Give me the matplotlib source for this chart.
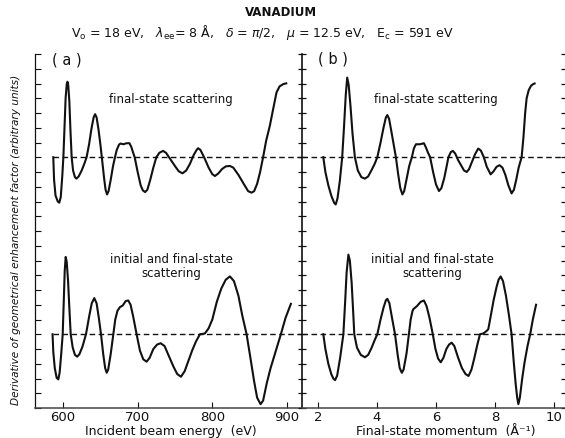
import matplotlib
matplotlib.use("Agg")
import matplotlib.pyplot as plt

# ---------------- data ----------------
# (a) final-state scattering: incident energy (eV) vs derivative (tick units, 0 = dashed line)
E_top = [587, 588, 590, 593, 595, 597, 599, 600.5, 602, 603.5, 605, 606, 607, 608.5, 610, 611.6,
         613.5, 616, 618, 621, 625, 628.5, 631.6, 635, 638, 641, 643, 645, 647.5, 650, 652,
         655, 657, 659, 661, 664, 667, 669.6, 672, 675, 677, 681, 685, 689, 691.5, 694, 696,
         700, 704, 707, 710, 713, 717, 721, 725, 729, 734, 738, 744, 750, 755, 760, 765, 770,
         775, 779, 781, 784, 789, 795, 800, 803.5, 808, 813, 818, 823.5, 828, 835, 842, 848,
         852.6, 856, 860, 864, 868, 872, 877, 882, 886, 890, 895, 899]
D_top_a = [0.0, -1.5, -2.6, -3.0, -3.08, -2.7, -1.3, 0.0, 2.0, 4.0, 4.95, 5.12, 4.9, 3.8, 1.8, 0.0,
           -0.9, -1.35, -1.45, -1.3, -0.9, -0.45, 0.0, 0.9, 1.9, 2.7, 2.92, 2.7, 1.9, 0.9, 0.0,
           -1.4, -2.2, -2.52, -2.3, -1.5, -0.6, 0.0, 0.5, 0.85, 0.93, 0.88, 0.95, 0.95, 0.7, 0.3, 0.0,
           -1.0, -1.9, -2.25, -2.36, -2.2, -1.5, -0.7, 0.0, 0.3, 0.43, 0.3, -0.15, -0.6, -0.95, -1.09,
           -0.9, -0.45, 0.15, 0.5, 0.61, 0.5, 0.0, -0.7, -1.15, -1.27, -1.1, -0.8, -0.62, -0.59,
           -0.7, -1.2, -1.8, -2.3, -2.4, -2.3, -1.8, -1.0, 0.0, 1.1, 2.13, 3.4, 4.4, 4.8, 4.96, 5.01]

# (a) initial and final-state scattering
E_bot = [586, 587, 589, 591.5, 593.7, 595.5, 597.5, 599.6, 601, 602.3, 603.6, 605, 606.8, 608.5,
         610.3, 613, 616, 619, 622, 626, 630.8, 635, 638.5, 641.9, 645, 648, 650.9, 654, 656.5,
         658.5, 660.5, 664, 667.4, 670, 673, 676.3, 680, 684, 687.4, 690.5, 694, 698.6, 703,
         707.5, 712, 716, 721, 726, 730.8, 736, 742, 748, 753, 758, 763, 768, 773, 778, 783.4,
         790, 795, 800, 806, 812, 818, 823.6, 829, 835, 840, 845.9, 851, 856, 860, 864.6, 868,
         873, 878, 884, 891.8, 898, 905.2]
D_bot_a = [0.0, -1.2, -2.3, -2.95, -3.06, -2.6, -1.4, 0.0, 2.2, 4.3, 5.24, 4.9, 3.6, 1.8,
           0.0, -0.9, -1.4, -1.52, -1.35, -0.85, 0.0, 1.2, 2.1, 2.45, 2.1, 1.1, 0.0, -1.4, -2.3,
           -2.61, -2.4, -1.3, 0.0, 1.0, 1.6, 1.84, 1.95, 2.25, 2.29, 2.0, 1.2, 0.0, -1.1,
           -1.7, -1.86, -1.6, -1.0, -0.7, -0.61, -0.8, -1.5, -2.2, -2.7, -2.88, -2.5, -1.8, -1.1,
           -0.5, 0.0, 0.05, 0.4, 1.0, 2.2, 3.1, 3.7, 3.92, 3.6, 2.6, 1.3, 0.0, -1.6, -3.2, -4.3,
           -4.74, -4.5, -3.3, -2.3, -1.3, 0.0, 1.1, 2.06]

# (b) final-state scattering: final-state momentum (1/Angstrom)
k_top = [2.18, 2.25, 2.35, 2.45, 2.55, 2.60, 2.66, 2.74, 2.82, 2.88, 2.94, 2.99, 3.04, 3.10, 3.17,
         3.25, 3.35, 3.47, 3.59, 3.70, 3.82, 3.92, 4.01, 4.12, 4.22, 4.30, 4.35, 4.41, 4.50, 4.57,
         4.64, 4.72, 4.79, 4.86, 4.92, 5.00, 5.09, 5.18, 5.25, 5.32, 5.45, 5.59, 5.66, 5.73, 5.80,
         5.90, 6.00, 6.10, 6.18, 6.28, 6.35, 6.42, 6.50, 6.57, 6.65, 6.75, 6.85, 6.95, 7.04, 7.12,
         7.22, 7.32, 7.43, 7.52, 7.62, 7.72, 7.85, 7.95, 8.05, 8.15, 8.25, 8.35, 8.45, 8.56, 8.64,
         8.72, 8.80, 8.90, 8.96, 9.02, 9.07, 9.14, 9.22, 9.30, 9.34]
D_top_b = [0.0, -1.0, -1.9, -2.6, -3.1, -3.2, -2.8, -1.6, 0.0, 2.0, 4.2, 5.4, 4.9, 3.5, 1.6,
           0.0, -0.9, -1.35, -1.45, -1.3, -0.85, -0.45, 0.0, 1.0, 2.0, 2.7, 2.86, 2.6, 1.6, 0.8,
           0.0, -1.2, -2.1, -2.52, -2.3, -1.5, -0.6, 0.0, 0.6, 0.88, 0.88, 0.95, 0.65, 0.3, 0.0,
           -1.0, -1.85, -2.29, -2.1, -1.4, -0.7, 0.0, 0.35, 0.43, 0.25, -0.2, -0.55, -0.9, -1.0, -0.8,
           -0.3, 0.2, 0.59, 0.45, 0.0, -0.65, -1.16, -0.95, -0.65, -0.54, -0.7, -1.2, -1.9, -2.45, -2.2,
           -1.5, -0.7, 0.0, 1.3, 3.0, 4.0, 4.55, 4.85, 4.97, 5.0]

# (b) initial and final-state scattering
k_bot = [2.18, 2.25, 2.35, 2.45, 2.52, 2.58, 2.65, 2.75, 2.86, 2.92, 2.97, 3.03, 3.08, 3.14, 3.19,
         3.23, 3.32, 3.45, 3.59, 3.70, 3.82, 3.92, 4.01, 4.12, 4.22, 4.30, 4.35, 4.42, 4.50, 4.61,
         4.70, 4.77, 4.84, 4.90, 5.00, 5.08, 5.14, 5.20, 5.23, 5.35, 5.48, 5.59, 5.68, 5.78, 5.89,
         5.98, 6.07, 6.16, 6.25, 6.35, 6.44, 6.53, 6.62, 6.75, 6.88, 7.00, 7.10, 7.20, 7.30, 7.40,
         7.49, 7.60, 7.70, 7.77, 7.85, 7.95, 8.05, 8.12, 8.19, 8.27, 8.37, 8.47, 8.56, 8.63, 8.70,
         8.75, 8.79, 8.84, 8.92, 9.00, 9.10, 9.19, 9.28, 9.39]
D_bot_b = [0.0, -1.0, -2.0, -2.7, -3.0, -3.11, -2.8, -1.6, 0.0, 2.2, 4.2, 5.4, 5.0, 3.5, 1.6,
           0.0, -0.9, -1.4, -1.56, -1.4, -0.9, -0.4, 0.0, 1.0, 1.8, 2.3, 2.4, 2.1, 1.2, 0.0,
           -1.4, -2.3, -2.61, -2.4, -1.3, 0.0, 1.0, 1.55, 1.7, 1.9, 2.2, 2.29, 1.9, 1.1, 0.0,
           -1.0, -1.65, -1.9, -1.6, -1.0, -0.7, -0.57, -0.8, -1.6, -2.3, -2.7, -2.83, -2.4, -1.6, -0.7,
           0.0, 0.05, 0.2, 0.34, 1.2, 2.3, 3.2, 3.7, 3.92, 3.6, 2.6, 1.3, 0.0, -1.8, -3.4,
           -4.3, -4.74, -4.3, -3.0, -1.9, -0.8, 0.0, 1.0, 2.0]

energy_ticks = [600, 700, 800, 900]
momentum_ticks = [2, 4, 6, 8, 10]
top_base = 17     # dashed reference level of upper curves (tick units)
bot_base = 5      # dashed reference level of lower curves

# ---------------- figure ----------------
W, H = 565, 439
fig = plt.figure(figsize=(W / 100, H / 100), dpi=100)

def fx(px):
    return px / W

def fy(py):
    return 1 - py / H

top_px, bot_px = 55, 409
axL = fig.add_axes([fx(35), fy(bot_px), fx(302) - fx(35), fy(top_px) - fy(bot_px)])
axR = fig.add_axes([fx(302), fy(bot_px), fx(565) - fx(302), fy(top_px) - fy(bot_px)])

ink = "#111111"
lw_curve = 1.5

for ax in (axL, axR):
    ax.set_ylim(0, 24)
    ax.set_yticks(range(0, 25))
    ax.set_yticklabels([])
    ax.spines["top"].set_visible(False)
    ax.spines["bottom"].set_color("#444444")
    ax.spines["bottom"].set_linewidth(1.1)
    ax.patch.set_alpha(0)

axL.set_xlim(562.5, 920.1)
axR.set_xlim(1.458, 10.37)

# left panel spines / ticks
axL.spines["right"].set_visible(False)
axL.spines["left"].set_linewidth(0.9)
axL.spines["left"].set_color(ink)
axL.tick_params(axis="y", direction="in", length=4, width=0.8, left=True, right=False, colors=ink)
axL.set_xticks(energy_ticks)
axL.tick_params(axis="x", direction="in", length=4, width=0.8, pad=1.5, labelsize=9.5, colors=ink)

# right panel spines / ticks
axR.spines["left"].set_linewidth(1.2)
axR.spines["left"].set_color(ink)
axR.spines["right"].set_visible(False)
axR.tick_params(axis="y", direction="inout", length=6, width=0.9, left=True, right=True, colors=ink)
axR.set_xticks(momentum_ticks)
axR.tick_params(axis="x", direction="in", length=4, width=0.8, pad=1.5, labelsize=9.5, colors=ink)

# curves
axL.plot(E_top, [top_base + v for v in D_top_a], color=ink, lw=lw_curve, solid_joinstyle="round")
axL.plot(E_bot, [bot_base + v for v in D_bot_a], color=ink, lw=lw_curve, solid_joinstyle="round")
axR.plot(k_top, [top_base + v for v in D_top_b], color=ink, lw=lw_curve, solid_joinstyle="round")
axR.plot(k_bot, [bot_base + v for v in D_bot_b], color=ink, lw=lw_curve, solid_joinstyle="round")

# dashed reference lines
dash = (0, (4, 2.5))
axL.hlines([top_base], E_top[0], 920.1, colors=ink, lw=1.0, linestyles=[dash])
axL.hlines([bot_base], E_bot[0], 920.1, colors=ink, lw=1.0, linestyles=[dash])
axR.hlines([top_base, bot_base], 1.458, 10.37, colors=ink, lw=1.0, linestyles=[dash])

# panel annotations
fig.text(fx(67), fy(60), "( a )", ha="center", va="center", fontsize=10.5, color=ink)
fig.text(fx(333), fy(59), "( b )", ha="center", va="center", fontsize=10.5, color=ink)
fig.text(fx(171), fy(99), "final-state scattering", ha="center", va="center", fontsize=8.5, color=ink)
fig.text(fx(436), fy(100), "final-state scattering", ha="center", va="center", fontsize=8.5, color=ink)
fig.text(fx(171), fy(267), "initial and final-state\nscattering", ha="center", va="center",
         fontsize=8.5, color=ink, linespacing=1.1, multialignment="center")
fig.text(fx(432), fy(267), "initial and final-state\nscattering", ha="center", va="center",
         fontsize=8.5, color=ink, linespacing=1.1, multialignment="center")

# axis labels
fig.text(fx(171), fy(432), "Incident beam energy  (eV)", ha="center", va="center", fontsize=9, color=ink)
fig.text(fx(446), fy(432), "Final-state momentum  (Å⁻¹)", ha="center", va="center", fontsize=9, color=ink)
fig.text(fx(16), fy(240), "Derivative of geometrical enhancement factor (arbitrary units)",
         rotation=90, ha="center", va="center", fontsize=7.6, style="italic", color=ink)

# titles
fig.text(fx(281), fy(13), "VANADIUM", ha="center", va="center", fontsize=8.5, fontweight="bold", color=ink)
fig.text(fx(262), fy(33),
         r"V$_\mathrm{o}$ = 18 eV,   $\lambda_\mathrm{ee}$= 8 Å,   $\delta$ = $\pi$/2,   $\mu$ = 12.5 eV,   E$_\mathrm{c}$ = 591 eV",
         ha="center", va="center", fontsize=9, color=ink)

fig.savefig("out.png", dpi=100)
